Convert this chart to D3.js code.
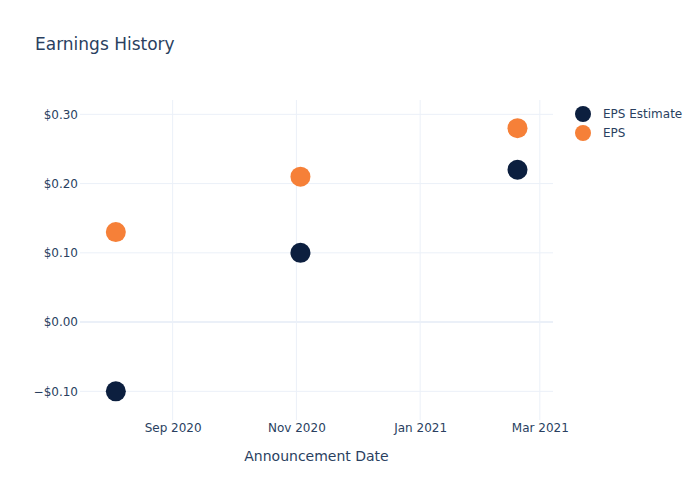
<!DOCTYPE html>
<html>
<head>
<meta charset="utf-8">
<script src="https://cdn.jsdelivr.net/npm/d3@7"></script>
<style>
  html, body { margin: 0; padding: 0; background: #fff; }
  text { font-family: "DejaVu Sans", Verdana, sans-serif; }
</style>
</head>
<body>
<svg id="chart" width="700" height="500"></svg>
<script>
const dates = ["2020-08-04", "2020-11-03", "2021-02-18"];
const epsEstimate = [-0.10, 0.10, 0.22];
const eps = [0.13, 0.21, 0.28];
const seriesNames = ["EPS Estimate", "EPS"];
const seriesColors = ["#0c1f3f", "#f68038"];
const xTickDates = ["2020-09-01", "2020-11-01", "2021-01-01", "2021-03-01"];
const yTickValues = [-0.10, 0.00, 0.10, 0.20, 0.30];
const xDomain = ["2020-07-17T08:00", "2021-03-07T12:00"];
const yDomain = [-0.1414, 0.3207];

const parse = d3.utcParse("%Y-%m-%d");
const parseT = d3.utcParse("%Y-%m-%dT%H:%M");
const svg = d3.select("#chart");
const W = 700, H = 500;
const m = { l: 80, r: 147, t: 100, b: 80 };
const textColor = "#2a3f5f";
const gridColor = "#ebf0f8";

const x = d3.scaleUtc().domain(xDomain.map(parseT)).range([m.l, W - m.r]);
const y = d3.scaleLinear().domain(yDomain).range([H - m.b, m.t]);

svg.append("rect").attr("width", W).attr("height", H).attr("fill", "#fff");

// grid
const grid = svg.append("g");
grid.selectAll("line.v").data(xTickDates.map(parse)).enter().append("line")
  .attr("x1", d => x(d)).attr("x2", d => x(d))
  .attr("y1", m.t).attr("y2", H - m.b)
  .attr("stroke", gridColor).attr("stroke-width", 1);
grid.selectAll("line.h").data(yTickValues).enter().append("line")
  .attr("x1", m.l).attr("x2", W - m.r)
  .attr("y1", d => y(d)).attr("y2", d => y(d))
  .attr("stroke", gridColor).attr("stroke-width", d => d === 0 ? 2 : 1);

// axes
const fmtMoney = v => (v < 0 ? "\u2212" : "") + "$" + Math.abs(v).toFixed(2);
const xAxis = d3.axisBottom(x).tickValues(xTickDates.map(parse))
  .tickFormat(d3.utcFormat("%b %Y")).tickSize(0).tickPadding(3);
const gx = svg.append("g").attr("transform", `translate(0,${H - m.b})`).call(xAxis);
gx.select(".domain").remove();
gx.selectAll("text").attr("fill", textColor).style("font-size", "12px");

const yAxis = d3.axisLeft(y).tickValues(yTickValues).tickFormat(fmtMoney)
  .tickSize(0).tickPadding(2);
const gy = svg.append("g").attr("transform", `translate(${m.l},0)`).call(yAxis);
gy.select(".domain").remove();
gy.selectAll("text").attr("fill", textColor).style("font-size", "12px");

// axis title
svg.append("text").attr("x", (m.l + W - m.r) / 2).attr("y", 461)
  .attr("text-anchor", "middle").attr("fill", textColor)
  .style("font-size", "14px").text("Announcement Date");

// title
svg.append("text").attr("x", 35).attr("y", 50)
  .attr("fill", textColor).style("font-size", "17px").text("Earnings History");

// points
const series = [epsEstimate, eps];
series.forEach((vals, si) => {
  svg.append("g").selectAll("circle").data(vals).enter().append("circle")
    .attr("cx", (d, i) => x(parse(dates[i])))
    .attr("cy", d => y(d))
    .attr("r", 10)
    .attr("fill", seriesColors[si]);
});

// legend
const lg = svg.append("g");
seriesNames.forEach((name, i) => {
  const ly = 114 + i * 19;
  lg.append("circle").attr("cx", 583).attr("cy", ly).attr("r", 8).attr("fill", seriesColors[i]);
  lg.append("text").attr("x", 603).attr("y", ly).attr("dy", "0.35em")
    .attr("fill", textColor).style("font-size", "12px").text(name);
});
</script>
</body>
</html>
